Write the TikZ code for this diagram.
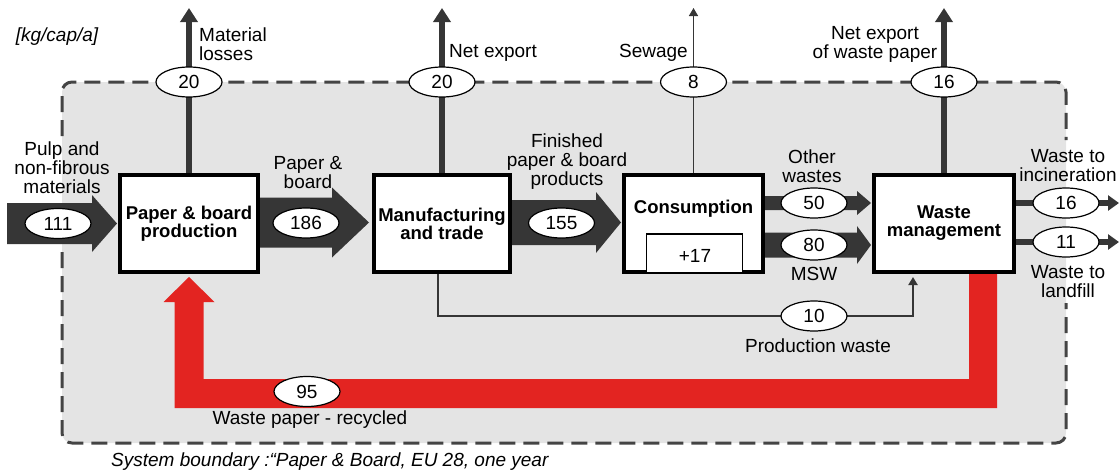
\documentclass[tikz,border=0pt]{standalone}
\usepackage{fontspec}
\setmainfont{Liberation Sans}
\usetikzlibrary{arrows.meta,calc,shapes.geometric}

\definecolor{bggray}{HTML}{E4E4E4}
\definecolor{flowgray}{HTML}{363636}
\definecolor{edgegray}{HTML}{444444}
\definecolor{recycred}{HTML}{E32421}

% horizontal block arrow: #1 start point, #2 tip, #3 half shaft, #4 half head, #5 head length
\newcommand\fatflow[5]{%
  \fill[flowgray] let \p1=#1, \p2=#2 in
    (\x1,\y2+#3) -- (\x2-#5,\y2+#3) -- (\x2-#5,\y2+#4) -- (\x2,\y2)
    -- (\x2-#5,\y2-#4) -- (\x2-#5,\y2-#3) -- (\x1,\y2-#3) -- cycle;}

\begin{document}
\begin{tikzpicture}[x=1pt,y=-1pt,
  lbl/.style={font=\fontsize{19}{19}\selectfont, inner sep=0pt, align=center},
  proc/.style={draw=black, line width=4pt, fill=white, inner sep=0pt,
    font=\fontsize{18.5}{18}\selectfont\bfseries, align=center},
  val/.style={ellipse, draw=black, line width=1.2pt, fill=white,
    minimum width=66pt, minimum height=30pt, inner sep=0pt,
    font=\fontsize{19}{19}\selectfont},
  boundary/.style={draw=edgegray, line width=3pt, dash pattern=on 16pt off 8pt,
    rounded corners=10pt},
  outflow/.style={draw=flowgray, line width=5.5pt, -{Triangle[length=14pt,width=17pt]}},
  thinflow/.style={draw=flowgray, line width=1.5pt, -{Triangle[length=8pt,width=9pt]}},
  sideflow/.style={draw=flowgray, line width=6pt, -{Triangle[length=11pt,width=15pt]}},
  wasteline/.style={draw=flowgray, line width=2pt, -{Triangle[length=8pt,width=9pt]}},
]
\useasboundingbox (0,0) rectangle (1120,474);

% system boundary
\fill[bggray, rounded corners=10pt] (62,82) rectangle (1066,443);
\draw[boundary] (62,252) -- (62,443) -- (1066,443) -- (1066,303);
\draw[boundary] (62,136) -- (62,82) -- (1066,82) -- (1066,140);

% processes
\node[proc, minimum width=138pt, minimum height=97pt] (pbp) at (189,223.5) {};
\node[proc, minimum width=136pt, minimum height=97pt] (mft) at (442,223.5) {};
\node[proc, minimum width=139pt, minimum height=97pt] (con) at (693.5,223.5) {};
\node[proc, minimum width=140pt, minimum height=97pt] (wm)  at (944,223.5) {};

% reference points
\coordinate (top)  at (0,8);
\coordinate (line) at (0,82);
\coordinate (s111) at (7,223.5);
\coordinate (t111) at (117,223.5);
\coordinate (t186) at (369,222.5);
\coordinate (t155) at (621,222.5);
\coordinate (t50)  at (871,203);
\coordinate (t80)  at (871,245);
\coordinate (inc)  at (1119,203);
\coordinate (lf)   at (1119,242);
\coordinate (pw1)  at (438,316);
\coordinate (pw2)  at (913,316);

% recycling loop
\fill[recycred] let \p1=(pbp.south), \p2=(wm.south) in
  (\x2+25pt,\y2) -- (\x2+53pt,\y2) -- (\x2+53pt,\y1-134pt) -- (\x1-14.5pt,\y1-134pt)
  -- (\x1-14.5pt,\y1-28pt) -- (\x1-25.5pt,\y1-28pt) -- (\x1,\y1-3pt)
  -- (\x1+25.5pt,\y1-28pt) -- (\x1+14.5pt,\y1-28pt) -- (\x1+14.5pt,\y1-105pt)
  -- (\x2+25pt,\y1-105pt) -- cycle;

% main flows
\fatflow{(s111)}{(t111)}{20.5pt}{28.5pt}{25pt}
\fatflow{(pbp.east)}{(t186)}{25pt}{35pt}{37pt}
\fatflow{(mft.east)}{(t155)}{22.5pt}{30.5pt}{25pt}
\fatflow{(con.east)}{(t50)}{7pt}{12pt}{14pt}
\fatflow{(con.east)}{(t80)}{12.5pt}{19pt}{14pt}

% outflows across the boundary
\draw[outflow] (pbp.north) -- (pbp.north |- top);
\draw[outflow] (mft.north) -- (mft.north |- top);
\draw[thinflow] (con.north) -- (con.north |- top);
\draw[outflow] (wm.north) -- (wm.north |- top);
\draw[sideflow] (wm.east |- inc) -- (inc);
\draw[sideflow] (wm.east |- lf) -- (lf);

% production waste
\draw[wasteline] (mft.south -| pw1) -- (pw1) -- (pw2) -- ($(pw2 |- wm.south)+(0,3)$);

% processes drawn over the flow ends
\node[proc, minimum width=138pt, minimum height=97pt] at (pbp) {Paper \& board\\production};
\node[proc, minimum width=136pt, minimum height=97pt] at (mft) {Manufacturing\\and trade};
\node[proc, minimum width=139pt, minimum height=97pt] at (con) {};
\node[proc, minimum width=140pt, minimum height=97pt] at (wm) {Waste\\management};
\node[proc, font=\fontsize{18.5}{18}\selectfont\bfseries, draw=none, fill=none] (conlab) at (693.5,209) {Consumption};
\node[draw=black, line width=1.5pt, fill=white, minimum width=96pt, minimum height=39pt, inner sep=0pt] (stock) at (694.5,253.5) {};
\node[lbl] (stocklab) at (695,256) {+17};

% flow values
\node[val] (v20a) at (pbp.north |- line) {20};
\node[val] (v20b) at (mft.north |- line) {20};
\node[val] (v8)   at (con.north |- line) {8};
\node[val] (v16a) at (wm.north |- line) {16};
\node[val] (v111) at (58,223.5) {111};
\node[val] (v186) at (306,223) {186};
\node[val] (v155) at (561.5,223) {155};
\node[val] (v50)  at (814,203) {50};
\node[val] (v80)  at (814,245) {80};
\node[val] (v16b) at (1066,203) {16};
\node[val] (v11)  at (1066,242) {11};
\node[val] (v10)  at (814,316) {10};
\node[val] (v95)  at (307,391.5) {95};

% labels
\node[lbl, font=\fontsize{19}{19}\selectfont\itshape] (unit) at (57,37) {[kg/cap/a]};
\node[lbl, anchor=west, align=left] (lloss) at (199,44) {Material\\losses};
\node[lbl, anchor=west] (lexp) at (449,53) {Net export};
\node[lbl, anchor=east] (lsew) at (688,53) {Sewage};
\node[lbl] (lexpw) at (875,44) {Net export\\of waste paper};
\node[lbl] (lpulp) at (62,168) {Pulp and\\non-fibrous\\materials};
\node[lbl] (lpb) at (308,173) {Paper \&\\board};
\node[lbl] (lfin) at (567,162) {Finished\\paper \& board\\products};
\node[lbl] (loth) at (812,166) {Other\\wastes};
\node[lbl] (lmsw) at (814,274) {MSW};
\node[lbl] (linc) at (1068,166) {Waste to\\incineration};
\node[lbl] (llf) at (1068,282) {Waste to\\landfill};
\node[lbl] (lpw) at (818,346) {Production waste};
\node[lbl] (lrec) at (310,420) {Waste paper - recycled};
\node[lbl, anchor=west, font=\fontsize{19}{19}\selectfont\itshape] (lsys) at (111,462)
  {System boundary :“Paper \& Board, EU 28, one year};
\end{tikzpicture}
\end{document}
